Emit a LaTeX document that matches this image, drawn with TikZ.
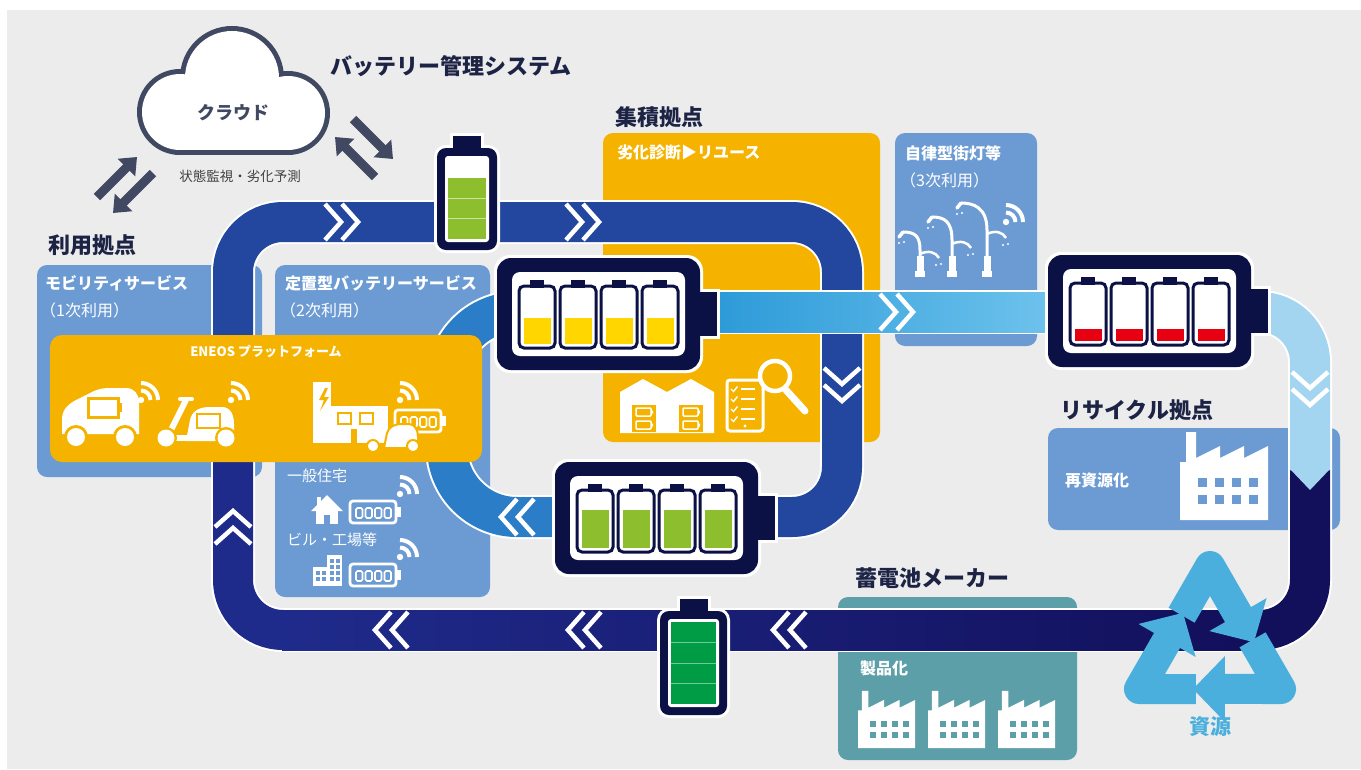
\documentclass[tikz,border=0pt]{standalone}
\usepackage{fontspec}
\setmainfont{Noto Sans CJK JP}
\usetikzlibrary{arrows.meta}

\definecolor{bggrey}{HTML}{ECECEC}
\definecolor{navytext}{HTML}{1C2344}
\definecolor{cloudline}{HTML}{414861}
\definecolor{loopblue}{HTML}{23469E}
\definecolor{loopleft}{HTML}{1F2B8B}
\definecolor{loopnavy}{HTML}{120F5B}
\definecolor{midblue}{HTML}{2B7DC7}
\definecolor{skyA}{HTML}{2C9AD8}
\definecolor{skyB}{HTML}{6EC3EC}
\definecolor{skyC}{HTML}{A3D5F1}
\definecolor{battnavy}{HTML}{0B1145}
\definecolor{amber}{HTML}{F5B300}
\definecolor{panelblue}{HTML}{6C9BD3}
\definecolor{tealpanel}{HTML}{5C9FA9}
\definecolor{recyc}{HTML}{4BAFDD}
\definecolor{cellyellow}{HTML}{FFD600}
\definecolor{cellgreen}{HTML}{8CBE2E}
\definecolor{cellred}{HTML}{E60012}
\definecolor{deepgreen}{HTML}{009B45}

\tikzset{
  sectiontitle/.style={anchor=west, inner sep=0pt, text=navytext, font=\bfseries\fontsize{22}{26}\selectfont},
  panelhead/.style={anchor=west, inner sep=0pt, text=white, font=\bfseries\fontsize{16}{19}\selectfont},
  panelsub/.style={anchor=west, inner sep=0pt, text=white, font=\fontsize{16}{19}\selectfont},
  iconlabel/.style={anchor=west, inner sep=0pt, text=white, font=\fontsize{15}{18}\selectfont},
  panel/.style={rounded corners=10pt},
  bandedge/.style={white, line width=44pt},
  band/.style={line width=40pt},
  chev/.style={white, line width=4.5pt},
  fatarrow/.style={cloudline, line width=9pt, -{Triangle[length=15pt,width=24pt]}},
}

% wireless mark: dot at (#1,#2), arcs opening up-right
\newcommand\WiFi[2]{%
  \begin{scope}[shift={(#1,#2)}]
    \fill[white] (0,0) circle[radius=3.2];
    \draw[white, line width=4pt] (0,-9.5) arc[start angle=-90, end angle=0, radius=9.5];
    \draw[white, line width=4pt] (0,-17) arc[start angle=-90, end angle=0, radius=17];
  \end{scope}}

% small outlined battery with four cells (top-left corner)
\newcommand\MiniBatt[2]{%
  \begin{scope}[shift={(#1,#2)}]
    \draw[white, line width=2.8pt, rounded corners=3pt] (0,0) rectangle (46,22);
    \fill[white] (46,6) rectangle (51,16);
    \foreach \k in {0,1,2,3}
      \draw[white, line width=1.6pt, rounded corners=1.5pt] (6+\k*9.5,7) rectangle ++(6.5,10);
  \end{scope}}

% large pack with four cells: left, top, cell colour, filled height
\newcommand\BigBatt[4]{%
  \begin{scope}[shift={(#1,#2)}]
    \fill[white, rounded corners=16pt] (-3,-3) rectangle (206,115);
    \fill[white] (200,31) rectangle (223,81);
    \fill[battnavy, rounded corners=14pt] (0,0) rectangle (203,112);
    \fill[battnavy] (200,34) rectangle (220,78);
    \fill[white, rounded corners=8pt] (15,14) rectangle (188,98);
    \foreach \cx in {22,63,104,145}{
      \fill[battnavy] (\cx+11,22) rectangle (\cx+25,30);
      \fill[#3] (\cx+4.5,86-#4) rectangle (\cx+31.5,86);
      \draw[battnavy, line width=3pt, rounded corners=5pt] (\cx,28) rectangle (\cx+36,90);
    }
  \end{scope}}

% upright single cell: left, top of body, width, height
\newcommand\SmallBatt[4]{%
  \begin{scope}[shift={(#1,#2)}]
    \fill[white, rounded corners=12pt] (-3,-3) rectangle (#3+3,#4+3);
    \fill[white] (#3/2-17,-15) rectangle (#3/2+17,0);
    \fill[battnavy] (#3/2-14,-12) rectangle (#3/2+14,2);
    \fill[battnavy, rounded corners=9pt] (0,0) rectangle (#3,#4);
    \fill[white, rounded corners=3pt] (8,8) rectangle (#3-8,#4-8);
  \end{scope}}

% factory: left, bottom, scale, window colour
\newcommand\Factory[4]{%
  \begin{scope}[shift={(#1,#2)}, scale=#3]
    \fill[white] (0,0) -- (0,-58) -- (6,-58) -- (6,-88) -- (16,-88) -- (16,-62)
      -- (40,-74) -- (40,-62) -- (64,-74) -- (64,-62) -- (88,-74) -- (88,0) -- cycle;
    \foreach \i in {0,1,2,3} \foreach \j in {0,1}
      \fill[#4] (18+\i*17,-42+\j*17) rectangle ++(9,9);
  \end{scope}}

\begin{document}
\begin{tikzpicture}[x=1pt, y=-1pt]
\useasboundingbox (0,0) rectangle (1361,769);
\fill[white] (0,0) rectangle (1361,769);
\fill[bggrey] (7,10) rectangle (1361,769);

% ---------- site panels ----------
\fill[panelblue, panel] (37,265) rectangle (262,477);
\fill[panelblue, panel] (275,265) rectangle (490,597);
\fill[amber, panel] (603,133) rectangle (880,442);
\fill[panelblue, panel] (895,133) rectangle (1037,346);
\fill[panelblue, panel] (1048,428) rectangle (1340,530);
\fill[tealpanel, panel] (838,597) rectangle (1077,760);

% ---------- main loop ----------
\draw[bandedge, rounded corners=50pt] (233,400) |- (300,630);
\draw[bandedge, rounded corners=50pt] (233,400) |- (842,222) |- (760,517);
\fill[white] (282,608) rectangle (1262,652);
\draw[bandedge, rounded corners=50pt] (1310,468) |- (1250,630);
\draw[band, loopleft, rounded corners=50pt] (233,400) |- (300,630);
\shade[left color=loopleft, right color=loopnavy] (282,610) rectangle (1262,650);
\draw[band, loopnavy, rounded corners=50pt] (1310,468) |- (1250,630);
\draw[band, loopblue, rounded corners=50pt] (233,400) |- (842,222) |- (760,517);

% second-use loop
\draw[bandedge, rounded corners=70pt] (575,517) -| (447,312) -- (530,312);
\draw[band, midblue, rounded corners=70pt] (575,517) -| (447,312) -- (530,312);

% third-use line and path to recycling
\fill[white] (712,290) rectangle (1055,334);
\shade[left color=skyA, right color=skyB] (712,292) rectangle (1055,332);
\draw[bandedge, rounded corners=50pt] (1255,312) -| (1310,470);
\draw[band, skyC, rounded corners=50pt] (1255,312) -| (1310,470);
\fill[skyC] (1290,469) -- (1330,469) -- (1310,490) -- cycle;

% ---------- flow chevrons ----------
\foreach \x in {325,342,566,583} \draw[chev] (\x,204) -- (\x+16,222) -- (\x,240);
\foreach \x in {880,897} \draw[chev] (\x,294) -- (\x+16,312) -- (\x,330);
\foreach \x in {517,534} \draw[chev] (\x,499) -- (\x-16,517) -- (\x,535);
\foreach \x in {391,408,584,601,789,806} \draw[chev] (\x,612) -- (\x-16,630) -- (\x,648);
\foreach \y in {527,544} \draw[chev] (215,\y) -- (233,\y-16) -- (251,\y);
\foreach \y in {368,385} \draw[chev] (824,\y) -- (842,\y+16) -- (860,\y);
\foreach \y in {372,389} \draw[chev] (1292,\y) -- (1310,\y+16) -- (1328,\y);

% ---------- ENEOS platform ----------
\fill[amber, rounded corners=12pt] (50,335) rectangle (482,462);
\node[font=\bfseries\fontsize{13}{15}\selectfont, text=white] (eneos) at (266,352) {ENEOS プラットフォーム};
% car
\fill[white] (62,434) -- (62,420) .. controls (62,410) and (67,405) .. (76,400) -- (92,392)
  .. controls (98,389) and (103,388) .. (110,388) -- (126,388)
  .. controls (134,388) and (139,394) .. (139,402) -- (139,434) -- cycle;
\draw[amber, line width=3pt] (88,398) rectangle (118,417);
\fill[amber] (118,403) rectangle (122,412);
\foreach \wx in {76,125} {\fill[amber] (\wx,437) circle[radius=12]; \fill[white] (\wx,437) circle[radius=9];}
% scooter
\fill[white] (186,441) -- (190,420) .. controls (192,411) and (199,407) .. (210,407) -- (222,407)
  .. controls (230,407) and (234,414) .. (234,424) -- (234,441) -- cycle;
\draw[white, line width=6pt, line cap=round] (168,436) -- (186,400);
\draw[white, line width=4pt, line cap=round] (180,399) -- (192,399);
\draw[white, line width=6pt] (166,438) -- (190,438);
\draw[amber, line width=2.5pt] (197,414) rectangle (220,428);
\foreach \wx in {166,226} {\fill[amber] (\wx,438) circle[radius=11]; \fill[white] (\wx,438) circle[radius=8.5];}
\WiFi{141}{400}
\WiFi{231}{400}
% charging station with storage
\fill[white] (313,382) rectangle (331,443);
\fill[amber] (325,388) -- (319,400) -- (324,400) -- (320,411) -- (329,397) -- (324,397) -- (328,388) -- cycle;
\fill[white] (331,406) rectangle (388,443);
\draw[amber, line width=2.2pt] (338,413) rectangle (351,424) (360,413) rectangle (373,424);
\fill[amber] (351,429) rectangle (357,443);
\MiniBatt{395}{410}
\fill[white, draw=amber, line width=2pt] (384,448) -- (387,433) .. controls (389,427) and (394,424) .. (402,424)
  -- (409,424) .. controls (415,424) and (418,430) .. (418,437) -- (418,448) -- cycle;
\draw[white, line width=4pt] (373,445) -- (386,424);
\fill[white, draw=amber, line width=2pt] (373,446) circle[radius=6];
\fill[white, draw=amber, line width=2pt] (413,446) circle[radius=6];
\WiFi{400}{400}

% ---------- stationary-use icons ----------
\fill[white] (311,511) -- (327,495) -- (343,511) -- cycle;
\fill[white] (316,508) rectangle (338,524);
\fill[white] (317,497) rectangle (321,506);
\fill[panelblue] (324,515) rectangle (330,524);
\MiniBatt{350}{501}
\WiFi{400}{494}
\fill[white] (327,555) rectangle (342,586);
\fill[white] (313,567) rectangle (328,586);
\foreach \wy in {559,565,571,577} \foreach \wx in {330,336} \fill[panelblue] (\wx,\wy) rectangle ++(3.5,3.5);
\foreach \wy in {571,577} \foreach \wx in {316,322} \fill[panelblue] (\wx,\wy) rectangle ++(3.5,3.5);
\MiniBatt{350}{564}
\WiFi{400}{557}

% ---------- hub icons ----------
\fill[white] (620,433) -- (620,392) -- (643,379) -- (667,392) -- (691,379) -- (714,392) -- (714,433) -- cycle;
\foreach \wx in {632,679}{
  \fill[amber] (\wx,405) rectangle (\wx+24,432);
  \draw[white, line width=1.5pt, rounded corners=1pt] (\wx+4,408) rectangle (\wx+19,416);
  \draw[white, line width=1.5pt, rounded corners=1pt] (\wx+4,421) rectangle (\wx+19,429);
  \fill[white] (\wx+19,410.5) rectangle (\wx+21,413.5) (\wx+19,423.5) rectangle (\wx+21,426.5);
}
\draw[white, line width=3pt, rounded corners=3pt] (727,380) rectangle (763,431);
\fill[white] (745,426) circle[radius=1.6];
\foreach \cy in {389,399,409,419}{
  \draw[white, line width=1.4pt] (731,\cy) -- (733.5,\cy+2.5) -- (737.5,\cy-2.5);
  \draw[white, line width=2pt] (741,\cy) -- (755,\cy);
}
\draw[white, line width=7pt, line cap=round] (786,390) -- (805,411);
\fill[amber] (775,376) circle[radius=16];
\draw[white, line width=4.5pt] (775,376) circle[radius=15];

% ---------- street lights ----------
\foreach \bx/\ty/\hx/\hy in {920/250/903/232, 952/240/932/217, 987/230/961/203}{
  \fill[white] (\bx-3.5,256) rectangle (\bx+3.5,277);
  \fill[white] (\bx-5,271) rectangle (\bx+5,277);
  \draw[white, line width=3pt] (\bx,258) -- (\bx,\ty) .. controls (\bx,\hy+4) and (\hx+12,\hy) .. (\hx,\hy);
  \draw[white, line width=3.5pt, line cap=round] (\hx,\hy) -- (\hx-4,\hy+5);
  \draw[white, line width=2.5pt] (\bx,\ty+4) .. controls (\bx+8,\ty) and (\bx+16,\ty+2) .. (\bx+19,\ty+8);
  \fill[white] (\hx-4,\hy+11) circle[radius=1.1] (\hx+1,\hy+10) circle[radius=1.1]
    (\bx+16,\ty+15) circle[radius=1.1] (\bx+21,\ty+14) circle[radius=1.1];
}
\WiFi{1006}{222}

% ---------- factories ----------
\Factory{1180}{520}{1.0}{panelblue}
\Factory{858}{748}{0.65}{tealpanel}
\Factory{928}{748}{0.65}{tealpanel}
\Factory{998}{748}{0.65}{tealpanel}

% ---------- batteries ----------
\BigBatt{497}{258}{cellyellow}{26}
\BigBatt{555}{462}{cellgreen}{38}
\BigBatt{1048}{255}{cellred}{12}
\SmallBatt{437}{148}{60}{102}
\fill[cellgreen] (448,178) rectangle (486,239);
\draw[white!55!cellgreen, line width=0.6pt] (448,198.3) -- (486,198.3) (448,218.6) -- (486,218.6);
\SmallBatt{660}{611}{67}{104}
\fill[deepgreen] (671,622) rectangle (716,704);
\draw[white!45!deepgreen, line width=0.6pt] (671,642.5) -- (716,642.5) (671,663) -- (716,663) (671,683.5) -- (716,683.5);

% ---------- recycling mark ----------
\foreach \a in {0,120,240}
  \draw[recyc, line width=30pt, line join=round, -{Triangle[length=32pt,width=64pt]},
        rotate around={\a:(1210,648)}] (1181.6,615.2) -- (1210,566) -- (1254,642.3);

% ---------- cloud ----------
\draw[cloudline, line width=10pt] (180,112) circle[radius=38];
\draw[cloudline, line width=10pt] (288,113) circle[radius=37];
\draw[cloudline, line width=10pt] (232,78) circle[radius=47];
\draw[cloudline, line width=10pt] (180,114) rectangle (288,150);
\fill[white] (180,112) circle[radius=38];
\fill[white] (288,113) circle[radius=37];
\fill[white] (232,78) circle[radius=47];
\fill[white] (180,114) rectangle (288,150);
\node[text=cloudline, font=\bfseries\fontsize{18}{21}\selectfont] (cloud) at (233,113) {クラウド};
\node[text=black!75, font=\fontsize{13.5}{16}\selectfont] (monitor) at (240,176) {状態監視・劣化予測};

\coordinate (la0) at (97,197);  \coordinate (la1) at (137,157);
\coordinate (lb0) at (153,173); \coordinate (lb1) at (113,213);
\coordinate (ra0) at (353,119); \coordinate (ra1) at (393,159);
\coordinate (rb0) at (375,177); \coordinate (rb1) at (335,137);
\draw[fatarrow] (la0) -- (la1);
\draw[fatarrow] (lb0) -- (lb1);
\draw[fatarrow] (ra0) -- (ra1);
\draw[fatarrow] (rb0) -- (rb1);

% ---------- labels ----------
\node[sectiontitle] (mgmt) at (330,66) {バッテリー管理システム};
\node[sectiontitle] (usesite) at (48,245) {利用拠点};
\node[sectiontitle] (hub) at (615,117) {集積拠点};
\node[sectiontitle] (recsite) at (1060,410) {リサイクル拠点};
\node[sectiontitle] (maker) at (855,578) {蓄電池メーカー};
\node[inner sep=0pt, text=recyc, font=\bfseries\fontsize{21}{24}\selectfont] (resource) at (1210,727) {資源};

\node[panelhead] (mob) at (45,283) {モビリティサービス};
\node[panelsub] (mobuse) at (40,310) {（1次利用）};
\node[panelhead] (stat) at (285,283) {定置型バッテリーサービス};
\node[panelsub] (statuse) at (280,310) {（2次利用）};
\node[iconlabel] (home) at (287,476) {一般住宅};
\node[iconlabel] (bldg) at (287,540) {ビル・工場等};
\node[panelhead] (diag) at (617,152) {劣化診断▶リユース};
\node[panelhead] (lamp) at (905,153) {自律型街灯等};
\node[panelsub] (lampuse) at (900,180) {（3次利用）};
\node[panelhead] (reres) at (1065,480) {再資源化};
\node[panelhead] (prod) at (860,668) {製品化};
\end{tikzpicture}
\end{document}
